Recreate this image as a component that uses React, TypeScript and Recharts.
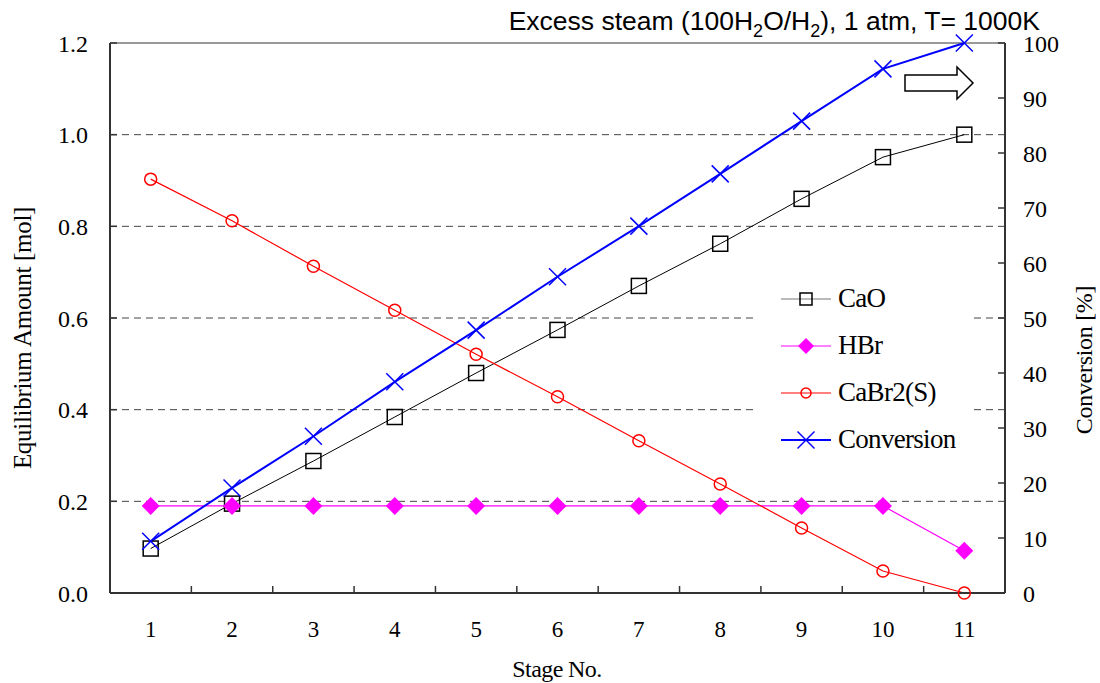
import React from "react";
import { LineChart, Line, XAxis, YAxis, CartesianGrid, ReferenceLine, Legend } from "recharts";

const stages = [1, 2, 3, 4, 5, 6, 7, 8, 9, 10, 11];
const caO = [0.097, 0.195, 0.288, 0.384, 0.48, 0.574, 0.67, 0.762, 0.86, 0.951, 1.0];
const hBr = [0.19, 0.19, 0.19, 0.19, 0.19, 0.19, 0.19, 0.19, 0.19, 0.19, 0.092];
const caBr2 = [0.903, 0.812, 0.713, 0.617, 0.521, 0.428, 0.332, 0.238, 0.142, 0.048, 0.0];
const conversion = [9.4, 19.1, 28.5, 38.4, 47.8, 57.5, 66.7, 76.2, 85.8, 95.3, 100];

const leftTicks = [0, 0.2, 0.4, 0.6, 0.8, 1.0, 1.2];
const rightTicks = [0, 10, 20, 30, 40, 50, 60, 70, 80, 90, 100];
const bandEdges = [1.5, 2.5, 3.5, 4.5, 5.5, 6.5, 7.5, 8.5, 9.5, 10.5];

const data = stages.map((s, i) => ({
  stage: s,
  caO: caO[i],
  hBr: hBr[i],
  caBr2: caBr2[i],
  conversion: conversion[i],
}));

const SERIF = "'Liberation Serif', 'Times New Roman', serif";
const SANS = "'Liberation Sans', Arial, sans-serif";
const AXIS = "#333";
const X_MARGIN = 28;
const L_MARGIN = 22;
const R_MARGIN = 18;

const Square = ({ cx, cy, s = 15 }: any) => (
  <rect x={cx - s / 2} y={cy - s / 2} width={s} height={s} fill="none" stroke="#000" strokeWidth={1.5} />
);
const Diamond = ({ cx, cy, s = 9 }: any) => (
  <polygon points={`${cx},${cy - s} ${cx + s},${cy} ${cx},${cy + s} ${cx - s},${cy}`} fill="#ff00ff" />
);
const Circle = ({ cx, cy, s = 6 }: any) => (
  <circle cx={cx} cy={cy} r={s} fill="none" stroke="#ff0000" strokeWidth={1.5} />
);
const Cross = ({ cx, cy, s = 8.5 }: any) => (
  <g stroke="#0000ff" strokeWidth={1.5}>
    <line x1={cx - s} y1={cy - s} x2={cx + s} y2={cy + s} />
    <line x1={cx - s} y1={cy + s} x2={cx + s} y2={cy - s} />
  </g>
);

const series = [
  { key: "caO", name: "CaO", color: "#000", legendColor: "#777", width: 1, Mark: Square, legendSize: 12, axis: "left" },
  { key: "hBr", name: "HBr", color: "#ff00ff", legendColor: "#ff00ff", width: 1.2, Mark: Diamond, legendSize: 8, axis: "left" },
  { key: "caBr2", name: "CaBr2(S)", color: "#ff0000", legendColor: "#ff0000", width: 1.2, Mark: Circle, legendSize: 5, axis: "left" },
  { key: "conversion", name: "Conversion", color: "#0000ff", legendColor: "#0000ff", width: 2, Mark: Cross, legendSize: 8.5, axis: "right" },
];

const StageTick = ({ x, y, payload }: any) => {
  if (payload.value % 1 !== 0) {
    const top = y - X_MARGIN;
    return <line x1={x} x2={x} y1={top} y2={top - 7} stroke={AXIS} strokeWidth={1.5} />;
  }
  return (
    <text x={x} y={y} dy="0.71em" textAnchor="middle" fontFamily={SERIF} fontSize={23} fill="#000">
      {payload.value}
    </text>
  );
};

const LeftTick = ({ x, y, payload }: any) => (
  <g>
    <line x1={x + L_MARGIN} x2={x + L_MARGIN + 7} y1={y} y2={y} stroke={AXIS} strokeWidth={1.5} />
    <text x={x} y={y} dy="0.355em" textAnchor="end" fontFamily={SERIF} fontSize={24} fill="#000">
      {Number(payload.value).toFixed(1)}
    </text>
  </g>
);

const RightTick = ({ x, y, payload }: any) => (
  <g>
    <line x1={x - R_MARGIN} x2={x - R_MARGIN - 7} y1={y} y2={y} stroke={AXIS} strokeWidth={1.5} />
    <text x={x} y={y} dy="0.355em" textAnchor="start" fontFamily={SERIF} fontSize={24} fill="#000">
      {payload.value}
    </text>
  </g>
);

const LegendBox = () => (
  <div style={{ background: "#fff", width: 212, padding: "6px 0" }}>
    {series.map((s) => (
      <div key={s.key} style={{ display: "flex", alignItems: "center", height: 47 }}>
        <svg width={80} height={30} style={{ marginLeft: 22 }}>
          <line x1={1} x2={51} y1={15} y2={15} stroke={s.legendColor} strokeWidth={s.width} />
          <s.Mark cx={26} cy={15} s={s.legendSize} />
        </svg>
        <span style={{ fontFamily: SERIF, fontSize: 27, color: "#000", marginLeft: -22, letterSpacing: -0.7 }}>
          {s.name}
        </span>
      </div>
    ))}
  </div>
);

export default function App() {
  return (
    <div style={{ position: "absolute", left: 0, top: 0, width: 1100, height: 683, background: "#fff" }}>
      <LineChart width={1100} height={683} data={data} margin={{ top: 43, right: 0, bottom: 0, left: 0 }}>
        <XAxis
          xAxisId="x"
          dataKey="stage"
          type="number"
          domain={[0.5, 11.5]}
          ticks={[...stages, ...bandEdges]}
          interval={0}
          height={90}
          tickSize={0}
          tickMargin={X_MARGIN}
          tick={<StageTick />}
          axisLine={{ stroke: AXIS, strokeWidth: 2 }}
          tickLine={false}
        />
        <YAxis
          yAxisId="left"
          domain={[0, 1.2]}
          ticks={leftTicks}
          width={110}
          tickSize={0}
          tickMargin={L_MARGIN}
          tick={<LeftTick />}
          axisLine={{ stroke: AXIS, strokeWidth: 2 }}
          tickLine={false}
        />
        <YAxis
          yAxisId="right"
          orientation="right"
          domain={[0, 100]}
          ticks={rightTicks}
          width={95}
          tickSize={0}
          tickMargin={R_MARGIN}
          tick={<RightTick />}
          axisLine={{ stroke: AXIS, strokeWidth: 2 }}
          tickLine={false}
        />
        <CartesianGrid xAxisId="x" yAxisId="left" vertical={false} stroke="#444" strokeDasharray="7 5" />
        <ReferenceLine xAxisId="x" yAxisId="left" y={1.2} stroke="#999" strokeWidth={2} />
        <Legend
          layout="horizontal"
          verticalAlign="middle"
          align="center"
          wrapperStyle={{ left: 758, top: 269, width: 212 }}
          content={() => <LegendBox />}
        />
        {series.map((s) => (
          <Line
            key={s.key}
            xAxisId="x"
            yAxisId={s.axis}
            dataKey={s.key}
            name={s.name}
            stroke={s.color}
            strokeWidth={s.width}
            isAnimationActive={false}
            dot={(p: any) => <s.Mark key={`${s.key}-${p.index}`} cx={p.cx} cy={p.cy} />}
            activeDot={false}
          />
        ))}
      </LineChart>
      <svg width={1100} height={683} style={{ position: "absolute", left: 0, top: 0, pointerEvents: "none" }}>
        <text x={1040} y={30} textAnchor="end" fontFamily={SANS} fontSize={26.5} fill="#000">
          Excess steam (100H<tspan fontSize={18} dy={7}>2</tspan>
          <tspan dy={-7}>O/H</tspan>
          <tspan fontSize={18} dy={7}>2</tspan>
          <tspan dy={-7}>), 1 atm, T= 1000K</tspan>
        </text>
        <text
          x={31}
          y={338}
          transform="rotate(-90 31 338)"
          textAnchor="middle"
          fontFamily={SERIF}
          fontSize={25}
          letterSpacing={-0.3}
          fill="#000"
        >
          Equilibrium Amount [mol]
        </text>
        <text
          x={1092}
          y={360}
          transform="rotate(-90 1092 360)"
          textAnchor="middle"
          fontFamily={SERIF}
          fontSize={24}
          letterSpacing={-0.3}
          fill="#000"
        >
          Conversion [%]
        </text>
        <text x={557} y={677} textAnchor="middle" fontFamily={SERIF} fontSize={24} letterSpacing={-0.6} fill="#000">
          Stage No.
        </text>
        <polygon
          points="905,75 957,75 957,67 973,83 957,99 957,91 905,91"
          fill="#fff"
          stroke="#000"
          strokeWidth={1.5}
        />
      </svg>
    </div>
  );
}
